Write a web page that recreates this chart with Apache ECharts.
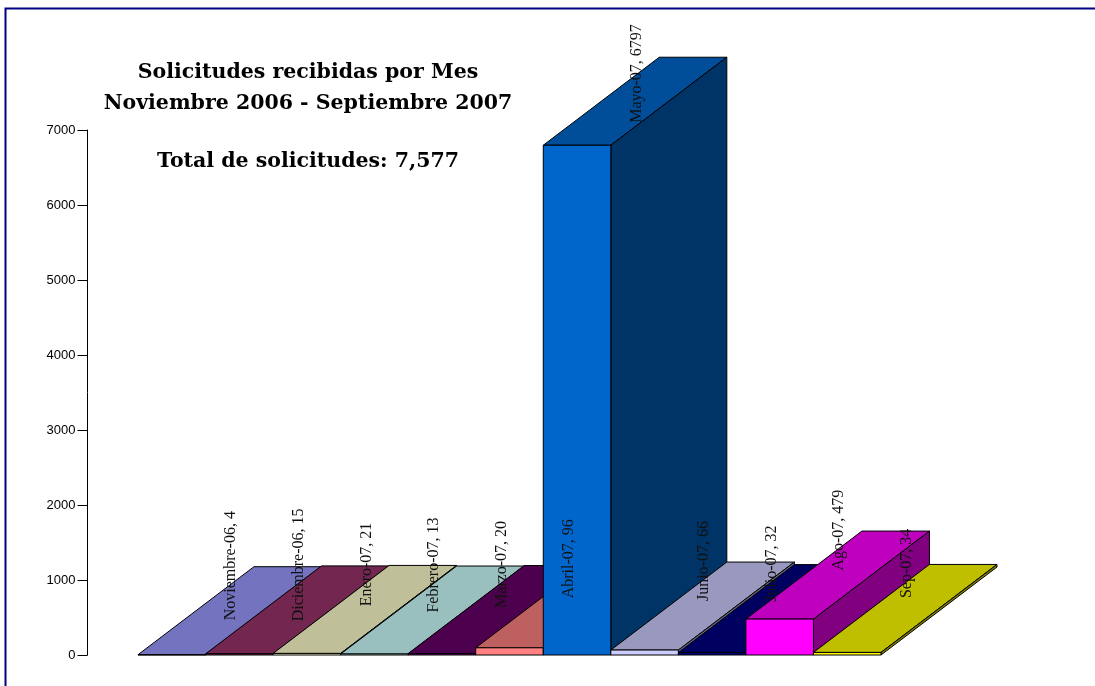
<!DOCTYPE html>
<html><head><meta charset="utf-8">
<style>html,body{margin:0;padding:0;background:#fff}#c{width:1095px;height:686px}</style>
<script src="https://cdn.jsdelivr.net/npm/echarts@6/dist/echarts.min.js"></script>
</head><body><div id="c"></div>
<script>
const categories = ['Noviembre-06','Diciembre-06','Enero-07','Febrero-07','Marzo-07','Abril-07','Mayo-07','Junio-07','Julio-07','Ago-07','Sep-07'];
const values = [4,15,21,13,20,96,6797,66,32,479,34];
const frontColors = ['#9999FF','#993366','#FFFFCC','#CCFFFF','#660066','#FF8080','#0066CC','#CCCCFF','#000080','#FF00FF','#FFFF00'];
const topColors = ['#7373BF','#732650','#BFBF99','#99BFBF','#4D004D','#BF6060','#004D99','#9999BF','#000060','#BF00BF','#BFBF00'];
const sideColors = ['#4D4D80','#4D1A33','#808066','#668080','#330033','#804040','#003366','#666680','#000040','#800080','#808000'];
const yTicks = [0,1000,2000,3000,4000,5000,6000,7000];
const titleLines = ['Solicitudes recibidas por Mes','Noviembre 2006 - Septiembre 2007'];
const totalLine = 'Total de solicitudes: 7,577';

const DX = 116, DY = 88, SERIF = '"Liberation Serif",serif', TITLE_SERIF = '"DejaVu Serif",serif';
const poly = (pts, fill) => ({type:'polygon', shape:{points:pts}, style:{fill, stroke:'#000', lineWidth:1}});

function renderBar(params, api){
  const i = api.value(0), v = api.value(1);
  const w = api.size([1,0])[0];
  const [cx, y1] = api.coord([i, v]);
  const [, y0] = api.coord([i, 0]);
  const l = cx - w/2, r = cx + w/2;
  return {type:'group', children:[
    poly([[l,y1],[r,y1],[r+DX,y1-DY],[l+DX,y1-DY]], topColors[i]),
    poly([[r,y1],[r+DX,y1-DY],[r+DX,y0-DY],[r,y0]], sideColors[i]),
    poly([[l,y0],[r,y0],[r,y1],[l,y1]], frontColors[i])
  ]};
}
function renderLabel(params, api){
  const i = api.value(0), v = api.value(1);
  const [cx, y1] = api.coord([i, v]);
  return {type:'text', x:cx+DX/2+1.5, y:Math.max(y1-DY/2-45, 73.5), rotation:Math.PI/2,
    style:{text:categories[i]+', '+v, font:'16px '+SERIF, fill:'#111', align:'center', verticalAlign:'middle'}};
}
const data = values.map((v,i)=>[i,v]);
const chart = echarts.init(document.getElementById('c'), null, {renderer:'canvas'});
chart.setOption({
  animation:false,
  backgroundColor:'#fff',
  title:[
    {text:titleLines.join('\n'), left:308, top:57, padding:0, textAlign:'center',
     textStyle:{fontFamily:TITLE_SERIF, fontSize:20.5, fontWeight:'bold', color:'#000', lineHeight:31}},
    {text:totalLine, left:308, top:146, padding:0, textAlign:'center',
     textStyle:{fontFamily:TITLE_SERIF, fontSize:20.5, fontWeight:'bold', color:'#000', lineHeight:31}}
  ],
  graphic:[{type:'rect', shape:{x:5.5,y:8.5,width:1200,height:800}, style:{fill:'none', stroke:'#000080', lineWidth:2}, silent:true}],
  grid:{left:138, top:130, width:743, height:525},
  xAxis:{type:'category', data:categories, show:false},
  yAxis:{type:'value', min:0, max:7000, interval:1000, offset:50.5,
    axisLine:{show:true, lineStyle:{color:'#000', width:1}},
    axisTick:{show:true, length:10, lineStyle:{color:'#000', width:1}},
    splitLine:{show:false},
    axisLabel:{fontFamily:'"Liberation Sans",Arial,sans-serif', fontSize:13, color:'#000', margin:12,
      formatter:v=>yTicks.includes(v)?String(v):''}},
  series:[
    {type:'custom', renderItem:renderBar, data, clip:false, z:2, encode:{x:0,y:1}},
    {type:'custom', renderItem:renderLabel, data, clip:false, z:3, encode:{x:0,y:1}}
  ]
});
</script></body></html>
